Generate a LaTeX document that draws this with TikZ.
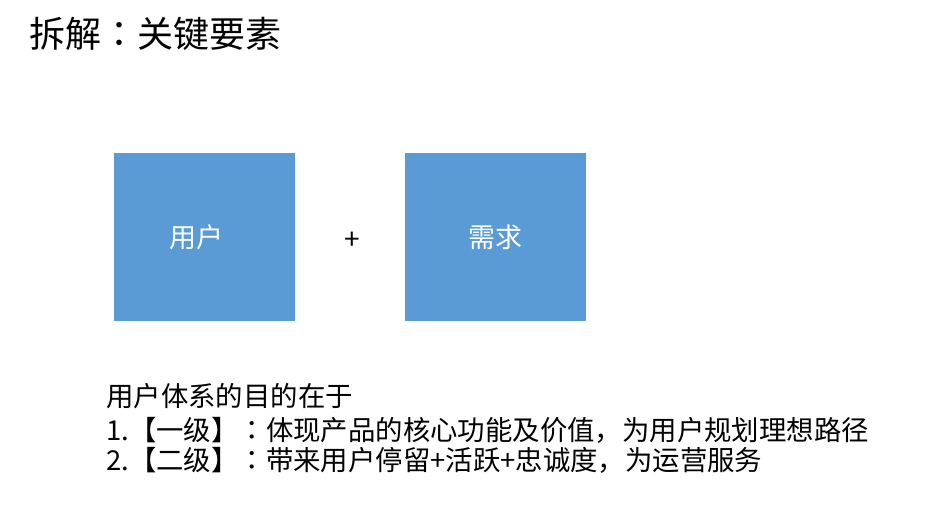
\documentclass[tikz,border=0pt]{standalone}
\usepackage{fontspec}
\setmainfont{Noto Sans CJK SC}
\newfontfamily\jpfont{Noto Sans CJK JP}
\definecolor{boxblue}{HTML}{5B9BD5}
\newcommand{\midcolon}{{\jpfont ：}}
\begin{document}
\begin{tikzpicture}[x=1pt,y=-1pt,
		block/.style={fill=boxblue,minimum width=181pt,minimum height=168pt,inner sep=0pt,text=white,font=\fontsize{27}{30}\selectfont},
		textline/.style={anchor=base west,inner sep=0pt,font=\fontsize{27.4}{32}\selectfont}]
		\useasboundingbox (0,0) rectangle (946,504);
		\node[anchor=base west,inner sep=0pt,font=\fontsize{36}{40}\selectfont] (title) at (29,47) {拆解\midcolon 关键要素};
		\node[block] (user) at (204,237) {用户\hspace*{16pt}};
		\node[block] (need) at (495,237) {需求};
		\node[font=\fontsize{28}{30}\selectfont,inner sep=0pt] (plus) at (352,241) {+};
		\node[textline] (goal) at (106,406) {用户体系的目的在于};
		\node[textline] (levelone) at (106,440) {1.【一级】\midcolon 体现产品的核心功能及价值，为用户规划理想路径};
		\node[textline] (leveltwo) at (106,470) {2.【二级】\midcolon 带来用户停留+活跃+忠诚度，为运营服务};
	\end{tikzpicture}
\end{document}
